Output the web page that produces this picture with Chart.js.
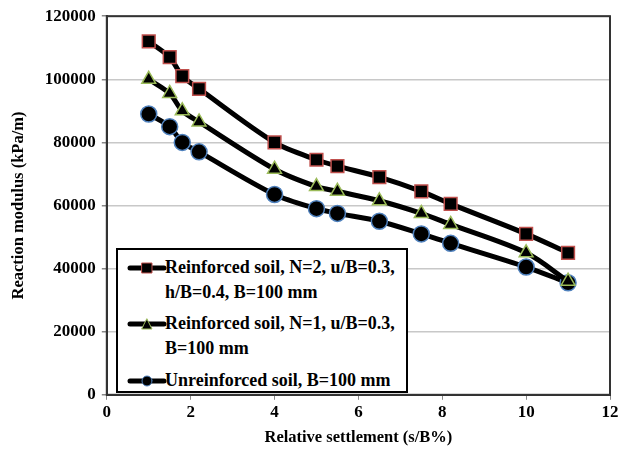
<!DOCTYPE html>
<html>
<head>
<meta charset="utf-8">
<script src="https://cdn.jsdelivr.net/npm/chart.js@4.4.1/dist/chart.umd.min.js"></script>
<style>
body { margin: 0; background: #fff; }
#wrap { position: relative; width: 627px; height: 450px; }
#legendBox {
    position: absolute; left: 116px; top: 248px; width: 292px; height: 145px;
    border: 2px solid #000; background: #fff; box-sizing: border-box;
    font-family: "Liberation Serif", serif; font-weight: bold; font-size: 18px; line-height: 25px;
}
.item { position: absolute; left: 9px; }
.item canvas { position: absolute; left: 0; top: 6px; }
.item span { display: block; padding-left: 38px; white-space: nowrap; }
</style>
</head>
<body>
<div id="wrap">
<canvas id="myChart" width="627" height="450"></canvas>
<div id="legendBox"></div>
</div>
<script>
var xVals = [1, 1.5, 1.8, 2.2, 4, 5, 5.5, 6.5, 7.5, 8.2, 10, 11];
var seriesNames = [
    "Reinforced soil, N=2, u/B=0.3,<br>h/B=0.4, B=100 mm",
    "Reinforced soil, N=1, u/B=0.3,<br>B=100 mm",
    "Unreinforced soil, B=100 mm"
];
var n2Vals = [112000, 107000, 101000, 97000, 80000, 74500, 72500, 69000, 64500, 60500, 51000, 45000];
var n1Vals = [100000, 95500, 90000, 86500, 71500, 66000, 64500, 61500, 57500, 54000, 45000, 36000];
var unVals = [89000, 85000, 80000, 77000, 63500, 59000, 57500, 55000, 51000, 48000, 40500, 35500];
var markerStyles = ['rect', 'triangle', 'circle'];
var markerBorders = ['#c0504d', '#9bbb59', '#4f81bd'];
var markerSizes = [9, 8, 8];

function pts(ys) {
    return xVals.map(function(x, i) { return {x: x, y: ys[i]}; });
}

var allVals = [n2Vals, n1Vals, unVals];
var datasets = allVals.map(function(vals, i) {
    return {
        label: seriesNames[i],
        data: pts(vals),
        showLine: true,
        borderColor: '#000',
        borderWidth: 5,
        tension: 0.3,
        pointStyle: markerStyles[i],
        pointRadius: markerSizes[i],
        pointBackgroundColor: '#000',
        pointBorderColor: markerBorders[i],
        pointBorderWidth: 1.5
    };
});

var frame = {
    id: 'frame',
    afterDraw: function(chart) {
        var a = chart.chartArea, c = chart.ctx;
        c.save();
        c.strokeStyle = '#333';
        c.lineWidth = 2;
        c.strokeRect(a.left, a.top, a.right - a.left, a.bottom - a.top);
        c.restore();
    }
};

var tickFont = {family: 'Liberation Serif', weight: 'bold', size: 17};
var titleFont = {family: 'Liberation Serif', weight: 'bold', size: 16.5};

var ctx = document.getElementById("myChart");
var myChart = new Chart(ctx, {
    type: 'scatter',
    data: {datasets: datasets},
    plugins: [frame],
    options: {
        responsive: false,
        animation: false,
        layout: {padding: {left: 5, right: 17, top: 14, bottom: 0}},
        plugins: {legend: {display: false}, tooltip: {enabled: false}},
        scales: {
            x: {
                min: 0, max: 12,
                ticks: {stepSize: 2, color: '#000', font: tickFont, padding: 3},
                grid: {display: true, drawOnChartArea: false, drawTicks: true, tickLength: 5, color: '#888'},
                border: {color: '#333', width: 2},
                title: {display: true, text: 'Relative settlement (s/B%)', color: '#000', font: titleFont, padding: {top: 2, bottom: 2}}
            },
            y: {
                min: 0, max: 120000,
                ticks: {stepSize: 20000, color: '#000', font: tickFont, padding: 6,
                    callback: function(v) { return String(v); }},
                grid: {color: '#c8c8c8', lineWidth: 1.5, tickLength: 5, tickColor: '#888'},
                border: {color: '#333', width: 2},
                title: {display: true, text: 'Reaction modulus (kPa/m)', color: '#000', font: titleFont, padding: {bottom: 10}}
            }
        }
    }
});

// legend inside the box
var box = document.getElementById('legendBox');
var tops = [5, 61, 118];
seriesNames.forEach(function(name, i) {
    var d = document.createElement('div');
    d.className = 'item';
    d.style.top = tops[i] + 'px';
    var cv = document.createElement('canvas');
    cv.width = 40; cv.height = 14;
    var g = cv.getContext('2d');
    g.strokeStyle = '#000'; g.lineWidth = 5; g.lineCap = 'round';
    g.beginPath(); g.moveTo(3, 7); g.lineTo(37, 7); g.stroke();
    g.fillStyle = '#000'; g.strokeStyle = markerBorders[i]; g.lineWidth = 1;
    g.beginPath();
    if (i === 0) { g.rect(15, 2, 10, 10); }
    else if (i === 1) { g.moveTo(20, 2); g.lineTo(25, 12); g.lineTo(15, 12); g.closePath(); }
    else { g.arc(20, 7, 5, 0, Math.PI * 2); }
    g.fill(); g.stroke();
    d.appendChild(cv);
    var s = document.createElement('span');
    s.innerHTML = name;
    d.appendChild(s);
    box.appendChild(d);
});
</script>
</body>
</html>
